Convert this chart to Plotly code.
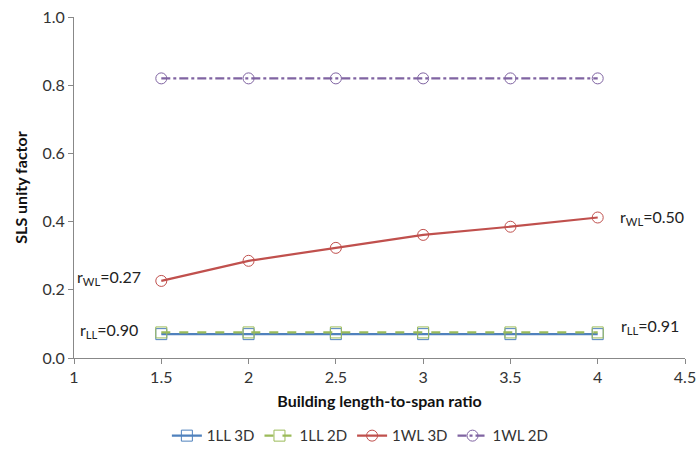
import plotly.graph_objects as go

x_ratio = [1.5, 2, 2.5, 3, 3.5, 4]
ll_3d = [0.070, 0.070, 0.070, 0.070, 0.070, 0.070]
ll_2d = [0.075, 0.075, 0.075, 0.075, 0.075, 0.075]
wl_3d = [0.226, 0.285, 0.323, 0.361, 0.385, 0.412]
wl_2d = [0.82, 0.82, 0.82, 0.82, 0.82, 0.82]

series_names = ["1LL 3D", "1LL 2D", "1WL 3D", "1WL 2D"]
colors = ["#4F81BD", "#9BBB59", "#C0504D", "#8064A2"]
dashes = ["solid", "dash", "solid", "dashdot"]
symbols = ["square-open", "square-open", "circle-open", "circle-open"]
data = [ll_3d, ll_2d, wl_3d, wl_2d]

annot_text = ["r<sub>WL</sub>=0.27", "r<sub>WL</sub>=0.50", "r<sub>LL</sub>=0.90", "r<sub>LL</sub>=0.91"]
annot_x = [1.2, 4.31, 1.2, 4.30]
annot_y = [0.235, 0.413, 0.082, 0.091]

FONT = "Lato, 'Open Sans', sans-serif"

fig = go.Figure()
for name, c, d, s, y in zip(series_names, colors, dashes, symbols, data):
    fig.add_trace(go.Scatter(
        x=x_ratio, y=y, name=name, mode="lines+markers",
        line=dict(color=c, width=2.2, dash=d),
        marker=dict(symbol=s, size=11, color=c, line=dict(width=1, color=c)),
    ))

for t, ax, ay in zip(annot_text, annot_x, annot_y):
    fig.add_annotation(x=ax, y=ay, text=t, showarrow=False,
                       font=dict(family=FONT, size=16, color="#222"))

fig.update_layout(
    width=699, height=455,
    margin=dict(l=74, r=14, t=17, b=97, autoexpand=False),
    plot_bgcolor="white", paper_bgcolor="white",
    font=dict(family=FONT, size=16, color="#333"),
    showlegend=True,
    legend=dict(orientation="h", x=0.152, xanchor="left", y=0.042, yref="container",
                yanchor="middle", font=dict(size=15, color="#333"), itemwidth=30,
                tracegroupgap=0),
)
fig.update_xaxes(range=[1, 4.5], tick0=1, dtick=0.5, showgrid=False, zeroline=False,
                 showline=True, linecolor="#888", linewidth=1, ticks="outside",
                 ticklen=5, tickcolor="#888", automargin=False,
                 title=dict(text="<b>Building length-to-span ratio</b>", font=dict(size=16, color="#111"), standoff=10))
fig.update_yaxes(range=[0, 1.0], tick0=0, dtick=0.2, tickformat=".1f", showgrid=False, zeroline=False,
                 showline=True, linecolor="#888", linewidth=1, ticks="outside",
                 ticklen=5, tickcolor="#888", automargin=False,
                 title=dict(text="<b>SLS unity factor</b>", font=dict(size=16, color="#111"), standoff=10))

fig.write_html("out.html")
